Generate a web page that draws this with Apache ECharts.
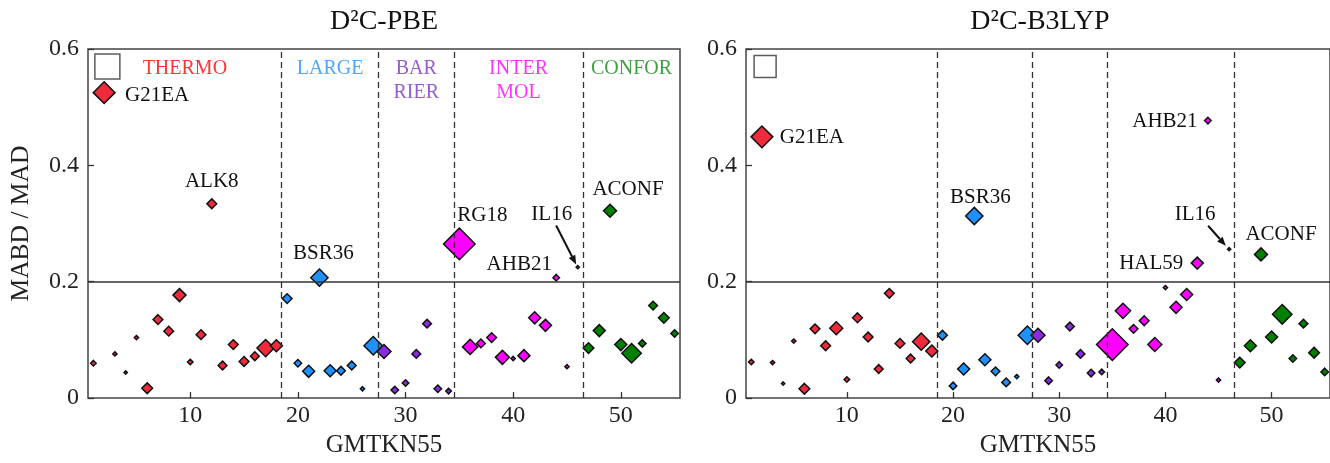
<!DOCTYPE html>
<html>
<head>
<meta charset="utf-8">
<script src="https://cdn.jsdelivr.net/npm/echarts@6/dist/echarts.min.js"></script>
<style>
  html, body { margin: 0; padding: 0; background: #ffffff; }
  #chart { width: 1330px; height: 463px; }
</style>
</head>
<body>
<div id="chart"></div>
<script>
// GMTKN55 subset index (1..55)
const setIndex = [
  1, 2, 3, 4, 5, 6, 7, 8, 9, 10, 11, 12, 13, 14, 15, 16, 17, 18, 19, 20,
  21, 22, 23, 24, 25, 26, 27, 28, 29, 30, 31, 32, 33, 34, 35, 36, 37, 38, 39, 40,
  41, 42, 43, 44, 45, 46, 47, 48, 49, 50, 51, 52, 53, 54, 55
];

// relative weight of each subset (drives the diamond area)
const setWeight = [
  1.7, 6.7, 1.3, 1.0, 1.3, 3.3, 3.0, 3.0, 4.0, 1.7, 3.0, 3.0, 2.7, 3.0, 3.0, 2.7, 5.3, 3.7, 3.0, 2.3,
  3.7, 5.3, 3.7, 2.7, 2.7, 1.3, 5.7, 4.3, 2.3, 2.0, 2.7, 2.7, 2.3, 1.7, 9.7, 4.7, 2.7, 3.0, 4.3, 1.3,
  3.7, 3.7, 3.7, 2.0, 1.3, 1.0, 3.3, 3.7, 4.0, 3.7, 6.0, 2.3, 2.7, 3.3, 2.3
];

// MABD / MAD for D2C-PBE
const mabdPBE = [
  0.060, 0.525, 0.076, 0.044, 0.104, 0.017, 0.135, 0.115, 0.177, 0.062,
  0.109, 0.334, 0.056, 0.092, 0.063, 0.072, 0.086, 0.090, 0.171, 0.060,
  0.046, 0.207, 0.047, 0.047, 0.056, 0.016, 0.090, 0.080, 0.014, 0.026,
  0.076, 0.128, 0.016, 0.012, 0.265, 0.088, 0.094, 0.104, 0.070, 0.068,
  0.073, 0.138, 0.125, 0.207, 0.054, 0.225, 0.086, 0.116, 0.322, 0.092,
  0.077, 0.094, 0.159, 0.138, 0.111
];

// MABD / MAD for D2C-B3LYP
const mabdB3LYP = [
  0.062, 0.449, 0.061, 0.025, 0.098, 0.016, 0.119, 0.090, 0.120, 0.032,
  0.138, 0.105, 0.050, 0.180, 0.094, 0.068, 0.097, 0.081, 0.108, 0.021,
  0.050, 0.313, 0.066, 0.046, 0.027, 0.037, 0.108, 0.108, 0.030, 0.057,
  0.123, 0.076, 0.043, 0.045, 0.092, 0.150, 0.119, 0.133, 0.092, 0.190,
  0.156, 0.178, 0.232, 0.477, 0.031, 0.256, 0.061, 0.090, 0.247, 0.105,
  0.144, 0.068, 0.128, 0.078, 0.045
];

// benchmark categories and their boundaries on the subset axis
const groupNames = ['THERMO', 'LARGE', 'BAR\nRIER', 'INTER\nMOL', 'CONFOR'];
const groupBounds = [0.5, 18.5, 27.5, 34.5, 46.5, 55.5];

// named subsets per panel
const namesPBE = { 2: 'G21EA', 12: 'ALK8', 22: 'BSR36', 35: 'RG18', 44: 'AHB21', 46: 'IL16', 49: 'ACONF' };
const namesB3LYP = { 2: 'G21EA', 22: 'BSR36', 43: 'HAL59', 44: 'AHB21', 46: 'IL16', 49: 'ACONF' };

// axis ticks and reference level
const xTicks = [10, 20, 30, 40, 50];
const yTicks = [0, 0.2, 0.4, 0.6];
const threshold = 0.2;

// hollow square key in the top-left corner of each panel
const keyMarker = [2.3, 0.57];

// ---- presentation ----
const FONT = 'Liberation Serif';
const groupColors = ['#ee2a3b', '#1e90ff', '#8a2be2', '#ff00ff', '#008000'];
const groupTextColors = ['#ff0000', '#1e90ff', '#7a35c0', '#ff00ff', '#0f8a14'];
const SIZE_SCALE = 3.25;

// label offsets (px from the marker centre) for named subsets
const labelOffsetPBE = {
  G21EA: [53, 3], ALK8: [0, -22], BSR36: [4, -24], RG18: [23, -28],
  AHB21: [-37, -13], IL16: [-26, -53], ACONF: [18, -21]
};
const labelOffsetB3LYP = {
  G21EA: [50, 1], BSR36: [6, -19], HAL59: [-46, 0],
  AHB21: [-43, 1], IL16: [-34, -35], ACONF: [20, -20]
};
// arrow from the IL16 label to its marker (px offsets: tail, head)
const arrowPBE = [[-21.6, -41.7], [-1.6, -2.7]];
const arrowB3LYP = [[-21, -23.4], [-3.3, -3.4]];

const grids = [
  { left: 88, top: 49, width: 592, height: 354 },
  { left: 746, top: 49, width: 590, height: 354 }
];

function groupOf(idx) {
  for (let g = 0; g < groupNames.length; g++) {
    if (idx > groupBounds[g] && idx < groupBounds[g + 1]) return g;
  }
  return 0;
}

function panelSeries(gi, values, names, offsets) {
  const out = [];
  for (let g = 0; g < groupNames.length; g++) {
    const data = [];
    setIndex.forEach((idx, i) => {
      if (groupOf(idx) !== g) return;
      const item = { value: [idx, values[i]], symbolSize: setWeight[i] * SIZE_SCALE };
      const nm = names[idx];
      if (nm) {
        item.label = {
          show: true, formatter: nm, position: 'inside', offset: offsets[nm],
          color: '#111', fontFamily: FONT, fontSize: 21
        };
      }
      data.push(item);
    });
    out.push({
      type: 'scatter', xAxisIndex: gi, yAxisIndex: gi,
      symbol: 'diamond', data: data, z: 3,
      itemStyle: { color: groupColors[g], borderColor: '#111', borderWidth: 1.5, opacity: 1 },
      emphasis: { disabled: true }, silent: true
    });
  }
  // guide lines: category separators and the 0.2 level
  out[0].markLine = {
    silent: true, symbol: 'none', animation: false,
    label: { show: false },
    data: groupBounds.slice(1, -1).map(v => ({
      xAxis: v, lineStyle: { type: [6, 4], color: '#333', width: 1.3 }
    })).concat([{ yAxis: threshold, lineStyle: { type: 'solid', color: '#333', width: 1.5 } }])
  };
  // hollow key square
  out.push({
    type: 'scatter', xAxisIndex: gi, yAxisIndex: gi, silent: true,
    symbol: 'rect', symbolSize: gi === 0 ? 25 : 22, data: [keyMarker],
    itemStyle: { color: 'rgba(0,0,0,0)', borderColor: '#333', borderWidth: 1.5 }
  });
  return out;
}

const chart = echarts.init(document.getElementById('chart'), null, { renderer: 'canvas' });

function xAxisFor(gi) {
  return {
    gridIndex: gi, type: 'value', min: groupBounds[0], max: groupBounds[groupBounds.length - 1],
    name: 'GMTKN55', nameLocation: 'middle', nameGap: 34,
    nameTextStyle: { fontFamily: FONT, fontSize: 25, color: '#222' },
    axisLine: { show: false },
    axisTick: { show: true, inside: true, length: 6, customValues: xTicks, lineStyle: { color: '#333', width: 1.3 } },
    axisLabel: { customValues: xTicks, fontFamily: FONT, fontSize: 24, color: '#222', margin: 6 },
    splitLine: { show: false }
  };
}
function yAxisFor(gi) {
  return {
    gridIndex: gi, type: 'value', min: yTicks[0], max: yTicks[yTicks.length - 1], interval: 0.2,
    name: gi === 0 ? 'MABD / MAD' : '', nameLocation: 'middle', nameGap: 54,
    nameTextStyle: { fontFamily: FONT, fontSize: 25.5, color: '#222' },
    axisLine: { show: false },
    axisTick: { show: true, inside: true, length: 6, lineStyle: { color: '#333', width: 1.3 } },
    axisLabel: {
      fontFamily: FONT, fontSize: 24, color: '#222', margin: 9,
      formatter: v => (v === 0 ? '0' : (+v).toFixed(1))
    },
    splitLine: { show: false }
  };
}

// category headings in the left panel
const headingSeries = {
  type: 'scatter', xAxisIndex: 0, yAxisIndex: 0, silent: true, symbolSize: 0,
  data: groupNames.map((n, g) => ({
    value: [(groupBounds[g] + groupBounds[g + 1]) / 2, yTicks[yTicks.length - 1]],
    label: {
      show: true, formatter: n, position: 'bottom', distance: 8,
      color: groupTextColors[g], fontFamily: FONT, fontSize: 20, lineHeight: 24, align: 'center'
    }
  }))
};

chart.setOption({
  animation: false,
  backgroundColor: '#ffffff',
  grid: grids.map(g => Object.assign({ show: true, borderColor: '#444', borderWidth: 1.5, backgroundColor: 'transparent' }, g)),
  xAxis: [xAxisFor(0), xAxisFor(1)],
  yAxis: [yAxisFor(0), yAxisFor(1)],
  series: []
    .concat(panelSeries(0, mabdPBE, namesPBE, labelOffsetPBE))
    .concat(panelSeries(1, mabdB3LYP, namesB3LYP, labelOffsetB3LYP))
    .concat([headingSeries])
});

// panel titles and the IL16 arrows, placed from the grid / data positions
function arrowGraphic(gi, idx, values, arrow) {
  const p = chart.convertToPixel({ gridIndex: gi }, [idx, values[setIndex.indexOf(idx)]]);
  const x1 = p[0] + arrow[0][0], y1 = p[1] + arrow[0][1];
  const x2 = p[0] + arrow[1][0], y2 = p[1] + arrow[1][1];
  const ang = Math.atan2(y2 - y1, x2 - x1);
  const L = 9, W = 3.6;
  const bx = x2 - L * Math.cos(ang), by = y2 - L * Math.sin(ang);
  return [
    { type: 'line', shape: { x1: x1, y1: y1, x2: bx, y2: by }, style: { stroke: '#111', lineWidth: 2 }, z: 10 },
    {
      type: 'polygon', z: 10,
      shape: { points: [[x2, y2], [bx - W * Math.sin(ang), by + W * Math.cos(ang)], [bx + W * Math.sin(ang), by - W * Math.cos(ang)]] },
      style: { fill: '#111' }
    }
  ];
}

const titles = ['D\u00B2C-PBE', 'D\u00B2C-B3LYP'];
const titleGraphics = grids.map((g, i) => ({
  type: 'text', x: i === 0 ? g.left + g.width / 2 : g.left + 294, y: 22,
  style: { text: titles[i], fontFamily: FONT, fontSize: 28, fill: '#111', align: 'center', verticalAlign: 'middle' }
}));

chart.setOption({
  graphic: titleGraphics
    .concat(arrowGraphic(0, 46, mabdPBE, arrowPBE))
    .concat(arrowGraphic(1, 46, mabdB3LYP, arrowB3LYP))
});
</script>
</body>
</html>
